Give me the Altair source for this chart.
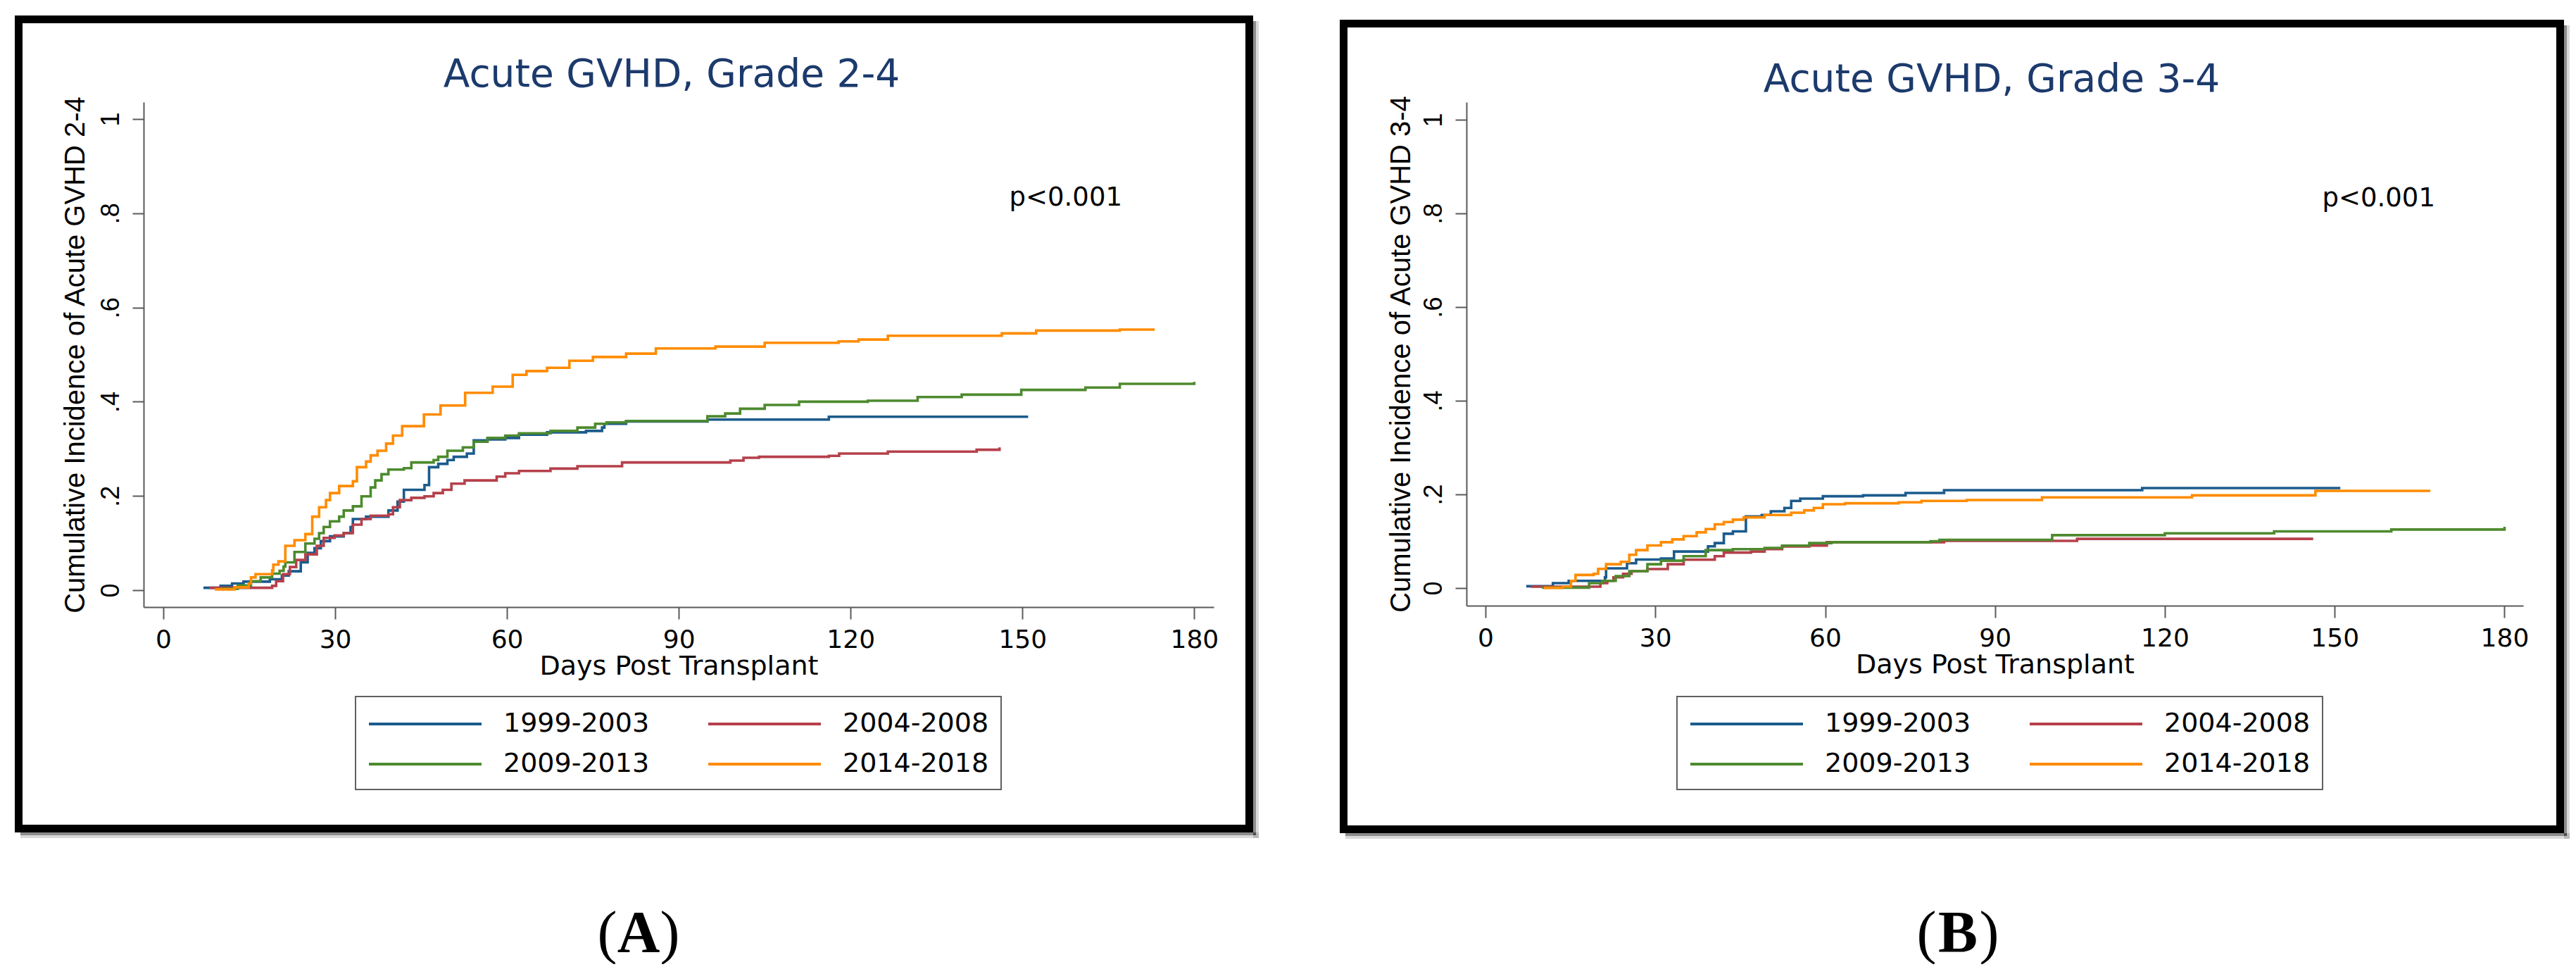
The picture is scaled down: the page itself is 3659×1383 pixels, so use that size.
import altair as alt
import pandas as pd

periods = ["1999-2003", "2004-2008", "2009-2013", "2014-2018"]
colors = ["#1b5b8d", "#b5404b", "#4d8a2e", "#ff8c00"]
x_ticks = [0, 30, 60, 90, 120, 150, 180]
y_ticks = [0, 0.2, 0.4, 0.6, 0.8, 1.0]

# ---------------- Panel A : Acute GVHD, Grade 2-4 ----------------
a_1999_day = [7, 10, 12, 14, 18.6, 20.7, 21.9, 24, 25.2, 26.4, 27.5, 29.1, 31.5, 32.7, 33.1, 35.4,
              39.3, 40.9, 42, 45.6, 46.4, 48, 49.6, 50.7, 53, 54.2, 56.6, 59.7, 62.1, 67, 73.8,
              76.6, 77, 80.8, 95, 116.2, 151]
a_1999_cum = [0.005, 0.009, 0.014, 0.018, 0.023, 0.031, 0.04, 0.059, 0.079, 0.089, 0.104, 0.114,
              0.121, 0.134, 0.151, 0.156, 0.169, 0.188, 0.213, 0.223, 0.261, 0.268, 0.276, 0.283,
              0.29, 0.318, 0.32, 0.323, 0.33, 0.335, 0.338, 0.345, 0.353, 0.358, 0.362, 0.368, 0.368]

a_2004_day = [8, 19, 19.7, 20.9, 22.1, 23.2, 24.8, 26.8, 28, 29.9, 31.5, 33.1, 34.6, 36.2, 39.3,
              40.1, 41.3, 43.3, 45.6, 47.2, 48.8, 50.3, 52.6, 58.2, 59.7, 62.1, 67.6, 72.3, 80.1,
              99, 101.3, 104, 116.2, 118, 126.5, 142, 146]
a_2004_cum = [0.005, 0.009, 0.019, 0.034, 0.049, 0.064, 0.076, 0.094, 0.111, 0.116, 0.121, 0.139,
              0.151, 0.158, 0.161, 0.176, 0.191, 0.196, 0.199, 0.206, 0.213, 0.226, 0.233, 0.241,
              0.248, 0.253, 0.258, 0.263, 0.271, 0.275, 0.281, 0.283, 0.285, 0.29, 0.294, 0.298, 0.303]

a_2009_day = [10, 13, 15.3, 17, 19, 20.3, 21, 21.3, 22.9, 24.8, 26.4, 27.2, 28, 29.1, 30.7, 31.5,
              33.1, 34.6, 36.2, 37, 38.1, 39.3, 42, 43.3, 47.2, 48, 49.6, 52.3, 54.2, 56.6, 59.7,
              62.1, 67.6, 72.3, 75.4, 77.4, 80.8, 95, 98.1, 100.7, 105, 111, 123, 131.7, 139.4,
              149.8, 161, 167, 180]
a_2009_cum = [0.003, 0.01, 0.019, 0.027, 0.035, 0.041, 0.05, 0.059, 0.081, 0.099, 0.109, 0.121,
              0.134, 0.146, 0.156, 0.169, 0.178, 0.199, 0.218, 0.233, 0.246, 0.256, 0.259, 0.271,
              0.276, 0.283, 0.296, 0.303, 0.315, 0.323, 0.328, 0.333, 0.338, 0.345, 0.353, 0.356,
              0.359, 0.369, 0.375, 0.385, 0.393, 0.4, 0.402, 0.41, 0.415, 0.425, 0.43, 0.438, 0.442]

a_2014_day = [9, 12.4, 14.9, 15.3, 16.1, 19, 19.2, 20.1, 21.3, 22.9, 24.8, 26, 27.2, 28.4, 29.1,
              30.7, 33.1, 33.8, 35.4, 36.2, 37.4, 38.9, 40.1, 41.7, 45.5, 48.4, 52.7, 57.5, 61,
              63.4, 67, 70.9, 75, 80.8, 86, 96.4, 105, 117.9, 121.4, 126.5, 146.4, 152.4, 167, 173.1]
a_2014_cum = [0.0015, 0.006, 0.014, 0.027, 0.034, 0.042, 0.054, 0.061, 0.094, 0.106, 0.119, 0.156,
              0.176, 0.191, 0.206, 0.221, 0.231, 0.261, 0.273, 0.286, 0.296, 0.311, 0.328, 0.348,
              0.373, 0.392, 0.419, 0.432, 0.457, 0.465, 0.472, 0.487, 0.495, 0.502, 0.513, 0.517,
              0.525, 0.528, 0.532, 0.54, 0.545, 0.551, 0.553, 0.553]

# ---------------- Panel B : Acute GVHD, Grade 3-4 ----------------
b_1999_day = [7.2, 11.9, 14.7, 21.1, 21.3, 25, 26.6, 31, 33.3, 39.3, 40.5, 42.1, 43.7, 46, 48.8,
              50.4, 52.8, 54, 55.6, 59.6, 66.7, 74.2, 81, 116, 151]
b_1999_cum = [0.004, 0.0105, 0.0155, 0.023, 0.042, 0.053, 0.061, 0.063, 0.078, 0.089, 0.096, 0.116,
              0.121, 0.153, 0.156, 0.164, 0.171, 0.186, 0.191, 0.196, 0.198, 0.203, 0.209, 0.2135, 0.2135]

b_2004_day = [8, 19.9, 20.3, 21.5, 22.6, 24.3, 25.8, 28.6, 32.2, 35, 40.5, 42.1, 46.9, 49.3, 52.4,
              57.2, 60.3, 81, 104.5, 146.2]
b_2004_cum = [0.003, 0.003, 0.0105, 0.0155, 0.023, 0.0305, 0.036, 0.0405, 0.051, 0.0606, 0.068,
              0.0757, 0.078, 0.083, 0.0887, 0.0907, 0.098, 0.1007, 0.105, 0.105]

b_2009_day = [10, 18.3, 20.6, 23, 25.4, 28.6, 31, 35, 38.9, 43.7, 49.3, 52.4, 57.2, 61.1, 78.6,
              80.2, 100.1, 120, 139.3, 160, 180]
b_2009_cum = [0.001, 0.0105, 0.0155, 0.0255, 0.036, 0.051, 0.0585, 0.068, 0.081, 0.083, 0.0857,
              0.0907, 0.096, 0.098, 0.1, 0.103, 0.113, 0.117, 0.121, 0.125, 0.131]

b_2014_day = [10.3, 13.6, 15.1, 15.9, 19.1, 19.9, 21.3, 23.9, 25.4, 26.6, 28.6, 31, 33, 35, 37.3,
              38.9, 40.5, 42.1, 43.7, 45.6, 49.3, 54, 56.3, 58, 59.6, 63.5, 73, 77, 85, 98.3,
              124.8, 146.6, 166.9]
b_2014_cum = [0.0005, 0.003, 0.0155, 0.028, 0.0305, 0.041, 0.051, 0.056, 0.071, 0.081, 0.091,
              0.098, 0.104, 0.111, 0.119, 0.126, 0.136, 0.141, 0.146, 0.151, 0.156, 0.161, 0.166,
              0.171, 0.179, 0.181, 0.183, 0.186, 0.188, 0.1935, 0.198, 0.2075, 0.2075]

p_text = "p<0.001"
p_a = (147.7, 0.816)
p_b = (147.8, 0.815)

FONT = "Liberation Sans"      # rotated (vertical) texts
HFONT = "DejaVu Sans"         # horizontal texts (wide, like the stretched original)
SERIF = "Liberation Serif"
NAVY = "#1c3a6c"
AXC = "#5a5a5a"


def series_df(groups):
    rows = []
    for name, days, vals in groups:
        for d, v in zip(days, vals):
            rows.append({"period": name, "day": d, "cum": v})
    return pd.DataFrame(rows)


def vrect(x1, x2, y1, y2, **kw):
    return alt.Chart(pd.DataFrame({"k": [0]})).mark_rect(**kw).encode(
        x=alt.value(x1), x2=alt.value(x2), y=alt.value(y1), y2=alt.value(y2))


def vtext(txt, x, y, **kw):
    return alt.Chart(pd.DataFrame({"k": [0]})).mark_text(text=txt, **kw).encode(
        x=alt.value(x), y=alt.value(y))


def panel(df, W, H, xdom, ydom, title, tx, ty, ytitle, ytx, pval, lx, ly, frame, letter, ltx, lty):
    fx1, fx2, fy1, fy2 = frame
    sw = 11
    layers = []
    # drop shadow (right and bottom strips)
    for off, op in [(4, 0.35), (8, 0.15)]:
        layers.append(vrect(fx2, fx2 + off, fy1 + 8, fy2 + off, color="#000", opacity=op))
        layers.append(vrect(fx1 + 8, fx2 + off, fy2, fy2 + off, color="#000", opacity=op))
    layers.append(vrect(fx1 + sw / 2, fx2 - sw / 2, fy1 + sw / 2, fy2 - sw / 2,
                        filled=False, color="black", strokeWidth=sw, strokeJoin="miter"))

    lines = alt.Chart(df).mark_line(interpolate="step-after", strokeWidth=3.6).encode(
        x=alt.X("day:Q", scale=alt.Scale(domain=xdom, nice=False, zero=False),
                axis=alt.Axis(values=x_ticks, title="Days Post Transplant", tickSize=17,
                              labelPadding=12, labelFontSize=36, labelFont=HFONT,
                              titleFont=HFONT, titleFontSize=38, titleY=95,
                              titleBaseline="alphabetic", labelFlush=False, labelOverlap=False)),
        y=alt.Y("cum:Q", scale=alt.Scale(domain=ydom, nice=False, zero=False),
                axis=alt.Axis(values=y_ticks,
                              labelExpr="datum.value == 0 ? '0' : (datum.value == 1 ? '1' : replace(format(datum.value, '.1f'), '0.', '.'))",
                              labelAngle=270, labelAlign="center", labelBaseline="alphabetic",
                              labelPadding=20, tickSize=16, labelFontSize=36, labelFont=FONT,
                              title=ytitle, titleFont=FONT,
                              titleAngle=270, titleX=ytx, titleY=H / 2, titleAlign="center",
                              titleBaseline="alphabetic", titleFontSize=40, labelOverlap=False)),
        color=alt.Color("period:N", scale=alt.Scale(domain=periods, range=colors),
                        legend=alt.Legend(title=None, orient="none", legendX=lx, legendY=ly,
                                          direction="horizontal", columns=2,
                                          symbolType="M-4,0H4", symbolSize=1600,
                                          symbolOffset=60, symbolStrokeWidth=3.8,
                                          labelFontSize=38, labelFont=HFONT,
                                          labelColor="black", labelLimit=500, labelOffset=89,
                                          columnPadding=75, rowPadding=16, padding=17,
                                          strokeColor="#606060")),
    )
    layers.append(lines)
    pdf = pd.DataFrame({"day": [pval[0]], "cum": [pval[1]], "t": [p_text]})
    layers.append(alt.Chart(pdf).mark_text(align="left", baseline="alphabetic", fontSize=37,
                                           font=HFONT, color="black").encode(
        x="day:Q", y="cum:Q", text="t:N"))
    layers.append(vtext(title, tx, ty, fontSize=55, font=HFONT, color=NAVY, align="center",
                        baseline="alphabetic"))
    layers.append(vtext("(", ltx - 30.5, lty, fontSize=84, font=SERIF, color="black",
                        align="right", baseline="alphabetic"))
    layers.append(vtext(letter, ltx, lty, fontSize=84, font=SERIF, fontWeight="bold",
                        color="black", align="center", baseline="alphabetic"))
    layers.append(vtext(")", ltx + 30.5, lty, fontSize=84, font=SERIF, color="black",
                        align="left", baseline="alphabetic"))
    return alt.layer(*layers).properties(width=W, height=H)


df_a = series_df([(periods[0], a_1999_day, a_1999_cum), (periods[1], a_2004_day, a_2004_cum),
                  (periods[2], a_2009_day, a_2009_cum), (periods[3], a_2014_day, a_2014_cum)])
df_b = series_df([(periods[0], b_1999_day, b_1999_cum), (periods[1], b_2004_day, b_2004_cum),
                  (periods[2], b_2009_day, b_2009_cum), (periods[3], b_2014_day, b_2014_cum)])

pa = panel(df_a, 1520, 717, [-3.44, 183.4], [-0.036, 1.036], "Acute GVHD, Grade 2-4", 750, -22,
           "Cumulative Incidence of Acute GVHD 2-4", -85, p_a, 301, 844,
           (-183, 1576, -123, 1037), "A", 703, 1207)
pb = panel(df_b, 1501, 715, [-3.36, 183.3], [-0.0376, 1.0376], "Acute GVHD, Grade 3-4", 746, -15,
           "Cumulative Incidence of Acute GVHD 3-4", -81, p_b, 299, 844,
           (-180, 1559, -117, 1038), "B", 698, 1207)

chart = alt.hconcat(pa, pb, spacing=359, bounds="flush").resolve_scale(
    color="independent", x="independent", y="independent"
).configure_view(stroke=None).configure_axis(
    grid=False, domainColor=AXC, tickColor=AXC, domainWidth=2, tickWidth=2,
    labelColor="black", titleColor="black", titleFontWeight="normal"
).configure_legend(strokeWidth=2).properties(
    padding={"left": 13, "top": 14, "right": 0, "bottom": 0},
    background="white"
)

chart.save("out.html", embed_options={"renderer": "svg", "actions": False})
